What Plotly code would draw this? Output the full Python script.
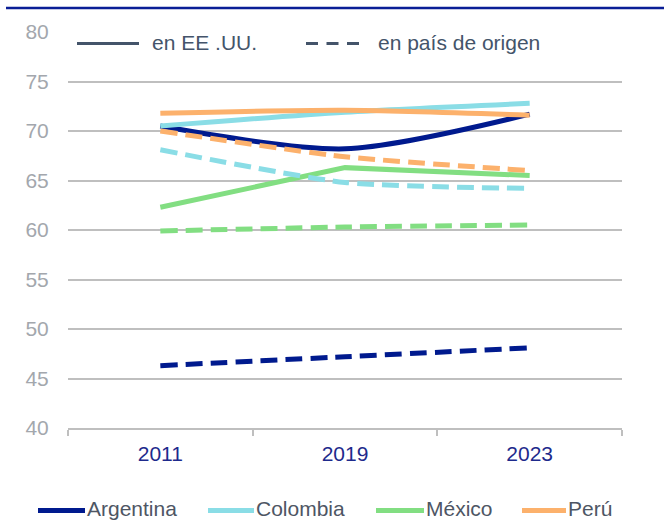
import plotly.graph_objects as go

# ---- data ----
years = ["2011", "2019", "2023"]
countries = ["Argentina", "Colombia", "México", "Perú"]

arg_usa = [70.5, 68.2, 71.7]
col_usa = [70.5, 71.9, 72.8]
mex_usa = [62.3, 66.3, 65.5]
per_usa = [71.8, 72.1, 71.6]

arg_origin = [46.3, 47.2, 48.1]
col_origin = [68.1, 64.8, 64.2]
mex_origin = [59.9, 60.3, 60.5]
per_origin = [70.0, 67.4, 66.0]

y_ticks = [40, 45, 50, 55, 60, 65, 70, 75, 80]
style_labels = ["en EE .UU.", "en país de origen"]

colors = ["#001A8E", "#8ADDE6", "#82DE82", "#FCB16C"]
usa_series = [arg_usa, col_usa, mex_usa, per_usa]
origin_series = [arg_origin, col_origin, mex_origin, per_origin]
usa_shape = ["spline", "spline", "linear", "spline"]

W, H = 664, 520
L, R, T, B = 68, 42, 32, 92
PW, PH = W - L - R, H - T - B
FONT = "Liberation Sans, Arial, sans-serif"


def px(x):
    return (x - L) / PW


def py(y):
    return (H - B - y) / PH


fig = go.Figure()

for name, vals, c, sh in zip(countries, usa_series, colors, usa_shape):
    fig.add_trace(go.Scatter(
        x=years, y=vals, mode="lines", name=name,
        line=dict(color=c, width=5, shape=sh, smoothing=0.8),
        showlegend=False, hoverinfo="skip"))

for name, vals, c in zip(countries, origin_series, colors):
    fig.add_trace(go.Scatter(
        x=years, y=vals, mode="lines", name=name + " (origen)",
        line=dict(color=c, width=5, dash="17px,8px", shape="spline", smoothing=0.6),
        showlegend=False, hoverinfo="skip"))

shapes = []
annotations = []

# top navy rule
shapes.append(dict(type="line", xref="paper", yref="paper",
                   x0=px(6), x1=px(664), y0=py(8), y1=py(8),
                   line=dict(color="#0A1E96", width=2.5)))

# top legend (line style)
slate = "#44546A"
shapes.append(dict(type="line", xref="paper", yref="paper",
                   x0=px(77), x1=px(139), y0=py(43.5), y1=py(43.5),
                   line=dict(color=slate, width=3)))
shapes.append(dict(type="line", xref="paper", yref="paper",
                   x0=px(306), x1=px(363), y0=py(43.5), y1=py(43.5),
                   line=dict(color=slate, width=3, dash="12px,8.5px")))
annotations.append(dict(text=style_labels[0], xref="paper", yref="paper",
                        x=px(150), y=py(42), xanchor="left", yanchor="middle",
                        showarrow=False, font=dict(family=FONT, size=21, color=slate)))
annotations.append(dict(text=style_labels[1], xref="paper", yref="paper",
                        x=px(376), y=py(42), xanchor="left", yanchor="middle",
                        showarrow=False, font=dict(family=FONT, size=21, color=slate)))

# bottom legend (countries)
leg_x = [(38, 85), (208, 254), (376, 424), (522, 566)]
for (x0, x1), name, c in zip(leg_x, countries, colors):
    shapes.append(dict(type="line", xref="paper", yref="paper",
                       x0=px(x0), x1=px(x1), y0=py(510.5), y1=py(510.5),
                       line=dict(color=c, width=5)))
    annotations.append(dict(text=name, xref="paper", yref="paper",
                            x=px(x1), y=py(508.5), xanchor="left", yanchor="middle",
                            showarrow=False,
                            font=dict(family=FONT, size=21, color="#4E5664")))

fig.update_layout(
    width=W, height=H,
    margin=dict(l=L, r=R, t=T, b=B, pad=0),
    paper_bgcolor="white", plot_bgcolor="white",
    font=dict(family=FONT),
    showlegend=False,
    shapes=shapes, annotations=annotations,
    xaxis=dict(
        type="category", range=[-0.5, 2.5],
        showgrid=False, showline=True, linecolor="#BFBFBF", linewidth=1.5,
        ticks="outside", tickson="boundaries", ticklen=6, tickcolor="#BFBFBF",
        tickwidth=1.5, ticklabelstandoff=6,
        tickfont=dict(family=FONT, size=21, color="#1E2A8C"),
        zeroline=False, fixedrange=True),
    yaxis=dict(
        range=[40, 80], tickvals=y_ticks,
        showgrid=True, gridcolor="#BFBFBF", gridwidth=1.5,
        showline=False, zeroline=False,
        ticks="outside", ticklen=14, tickcolor="rgba(0,0,0,0)",
        tickfont=dict(family=FONT, size=21, color="#A3A7AD"),
        fixedrange=True),
)

fig.write_html(
    "out.html",
    config={"displayModeBar": False},
    post_script="document.body.style.margin='0';document.body.style.overflow='hidden';",
)
